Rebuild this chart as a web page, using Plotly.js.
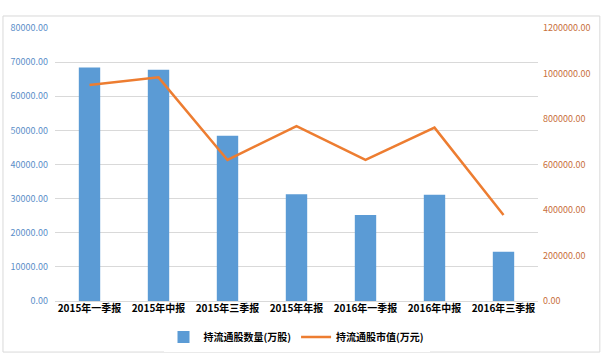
<!DOCTYPE html>
<html>
<head>
<meta charset="utf-8">
<script src="https://cdn.plot.ly/plotly-3.0.1.min.js"></script>
<style>html,body{margin:0;padding:0;background:#fff;}#chart{width:610px;height:363px;}</style>
</head>
<body>
<div id="chart"></div>
<script>
const categories = ["2015年一季报","2015年中报","2015年三季报","2015年年报","2016年一季报","2016年中报","2016年三季报"];
const shareCount = [68400, 67800, 48400, 31300, 25200, 31100, 14400];
const marketValue = [949000, 983000, 620000, 769000, 620000, 762000, 378000];
const seriesNames = ["持流通股数量(万股)", "持流通股市值(万元)"];

const font = "'Noto Sans CJK SC', 'Noto Sans', sans-serif";
const traces = [
  {type:'bar', x:categories, y:shareCount, name:seriesNames[0], marker:{color:'#5B9BD5'}, yaxis:'y'},
  {type:'scatter', mode:'lines', x:categories, y:marketValue, name:seriesNames[1], line:{color:'#ED7D31', width:2.5}, yaxis:'y2'}
];
const layout = {
  width:610, height:363,
  margin:{l:55, r:72, t:28, b:62},
  paper_bgcolor:'#fff', plot_bgcolor:'#fff',
  font:{family:font, size:10, color:'#000'},
  bargap:0.69,
  showlegend:true,
  legend:{orientation:'h', x:0.5, xanchor:'center', y:-0.132, yanchor:'middle', font:{size:10, color:'#000', family:font, weight:'bold'}, itemwidth:30, tracegroupgap:0},
  xaxis:{type:'category', showgrid:false, zeroline:false, showline:false, ticks:'', tickfont:{size:10, color:'#000', family:font, weight:'bold'}},
  yaxis:{range:[0,80000], dtick:10000, tickformat:'.2f', gridcolor:'#D9D9D9', gridwidth:1, zeroline:true, zerolinecolor:'#D9D9D9', showline:false, tickfont:{size:9, color:'#5B8FC9'}, ticks:'', ticklabelstandoff:6, automargin:false},
  yaxis2:{range:[0,1200000], dtick:200000, tickformat:'.2f', overlaying:'y', side:'right', showgrid:false, zeroline:false, showline:false, tickfont:{size:9, color:'#C8703A'}, ticklabelstandoff:4, automargin:false},
  shapes:[{type:'rect', xref:'paper', yref:'paper', x0:-0.1077, x1:1.128, y0:-0.187, y1:1.044, line:{color:'#D9D9D9', width:1}, fillcolor:'rgba(0,0,0,0)', layer:'below'}]
};
Plotly.newPlot('chart', traces, layout, {displayModeBar:false, staticPlot:true});
</script>
</body>
</html>
